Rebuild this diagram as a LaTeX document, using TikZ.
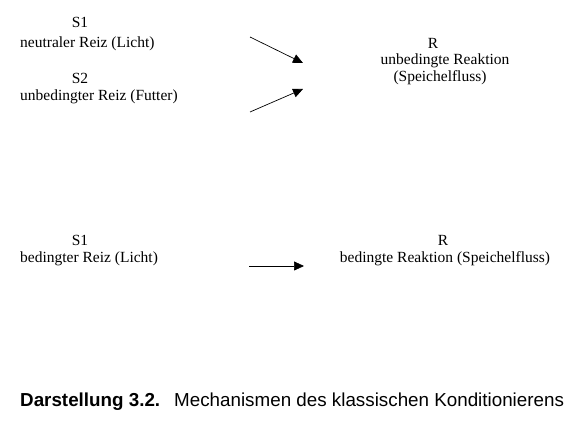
\documentclass[tikz,border=0pt]{standalone}
\usepackage{fontspec}
\setmainfont{Liberation Serif}
\newfontfamily\captionfont{Liberation Sans}
\usetikzlibrary{arrows.meta}
\newcommand{\reizarrow}[2]{
  \draw [line width=0.7pt, -{Triangle[length=10pt,width=9pt]}] (#1) -- (#2);% stimulus to reaction
}

\begin{document}
\begin{tikzpicture}[x=1pt,y=-1pt,
    txt/.style={inner sep=0pt,font=\fontsize{15.5}{18}\selectfont},
    lft/.style={txt,anchor=west}]
        \useasboundingbox (0,0) rectangle (581,427);

        % upper part: before conditioning
        \node[txt] (sa) at (80,22) {S1};
        \node[lft] (sadesc) at (20,44) {neutraler Reiz (Licht)};
        \node[txt] (sb) at (80,78) {S2};
        \node[lft] (sbdesc) at (20,97) {unbedingter Reiz (Futter)};
        \node[txt] (ra) at (433,43) {R};
        \node[txt] (radesc) at (445,61) {unbedingte Reaktion};
        \node[txt] (rasub) at (440,78) {(Speichelfluss)};

        \coordinate (a1) at (250,37);
        \coordinate (a2) at (303,63);
        \coordinate (b1) at (250,112);
        \coordinate (b2) at (303,89);
        \reizarrow{a1}{a2}
        \reizarrow{b1}{b2}

        % lower part: after conditioning
        \node[txt] (sc) at (80,240) {S1};
        \node[lft] (scdesc) at (20,259) {bedingter Reiz (Licht)};
        \node[txt] (rb) at (443,240) {R};
        \node[txt] (rbdesc) at (445,259) {bedingte Reaktion (Speichelfluss)};

        \coordinate (c1) at (249,266);
        \coordinate (c2) at (304,266);
        \reizarrow{c1}{c2}

        % caption
        \node[inner sep=0pt,anchor=west,font=\captionfont\fontsize{18.8}{20}\selectfont] (cap) at (20,402)
          {\textbf{Darstellung 3.2.}\hspace{14pt}Mechanismen des klassischen Konditionierens};
      \end{tikzpicture}
\end{document}
